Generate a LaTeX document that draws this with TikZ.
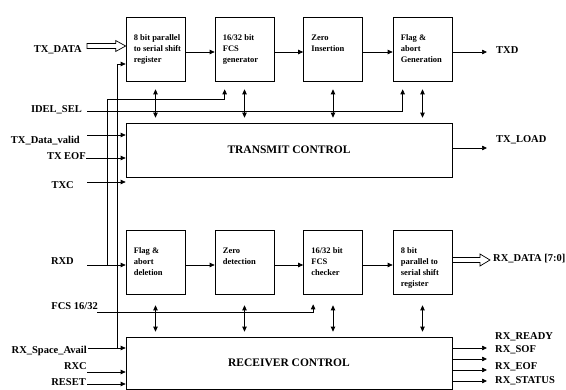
\documentclass[tikz,border=0pt]{standalone}
\usepackage{fontspec}
\setmainfont{Liberation Serif}
\usetikzlibrary{arrows.meta,calc}
\begin{document}
\begin{tikzpicture}[x=1pt,y=-1pt,
  blk/.style={draw, line width=0.7pt, inner sep=0pt, minimum width=59pt, minimum height=64pt},
  ctl/.style={draw, line width=0.7pt, inner sep=0pt, minimum width=326pt, minimum height=54pt, font=\fontsize{11.5}{13}\selectfont\bfseries},
  btxt/.style={anchor=north west, align=left, inner sep=0pt, font=\fontsize{8.5}{11}\selectfont\bfseries},
  lbl/.style={inner sep=0pt, text height=7.5pt, text depth=2pt, font=\fontsize{10.5}{12}\selectfont\bfseries},
  ln/.style={line width=0.7pt},
  arr/.style={line width=0.7pt, -{Triangle[length=5pt,width=4.5pt]}},
  biarr/.style={line width=0.9pt, {Triangle[length=5pt,width=4.5pt]}-{Triangle[length=5pt,width=4.5pt]}}
]
\useasboundingbox (0,0) rectangle (566,390);

% ---- transmit path boxes
\node[blk] (b1) at (155.5,49) {};
\node[blk] (b2) at (244.5,49) {};
\node[blk] (b3) at (333,49) {};
\node[blk] (b4) at (422.5,49) {};
\node[btxt] at ([xshift=8pt,yshift=-18pt]b1.north west) {8 bit parallel\\to serial shift\\register};
\node[btxt] at ([xshift=8pt,yshift=-18pt]b2.north west) {16/32 bit\\FCS\\generator};
\node[btxt] at ([xshift=8pt,yshift=-18pt]b3.north west) {Zero\\Insertion};
\node[btxt] at ([xshift=8pt,yshift=-18pt]b4.north west) {Flag \&\\abort\\Generation};

% ---- receive path boxes
\node[blk] (c1) at (155.5,262) {};
\node[blk] (c2) at (244.5,262) {};
\node[blk] (c3) at (333,262) {};
\node[blk] (c4) at (422.5,262) {};
\node[btxt] at ([xshift=8pt,yshift=-18pt]c1.north west) {Flag \&\\abort\\deletion};
\node[btxt] at ([xshift=8pt,yshift=-18pt]c2.north west) {Zero\\detection};
\node[btxt] at ([xshift=8pt,yshift=-18pt]c3.north west) {16/32 bit\\FCS\\checker};
\node[btxt] at ([xshift=8pt,yshift=-18pt]c4.north west) {8 bit\\parallel to\\serial shift\\register};

% ---- control blocks
\node[ctl] (tc) at (289,150) {TRANSMIT CONTROL};
\node[ctl, minimum height=52pt] (rc) at (289,363) {RECEIVER CONTROL};

% ---- chain arrows
\draw[arr] ([yshift=-3pt]b1.east) -- ([yshift=-3pt]b2.west);
\draw[arr] ([yshift=-3pt]b2.east) -- ([yshift=-3pt]b3.west);
\draw[arr] ([yshift=-3pt]b3.east) -- ([yshift=-3pt]b4.west);
\draw[arr] ([yshift=-3pt]c1.east) -- ([yshift=-3pt]c2.west);
\draw[arr] ([yshift=-3pt]c2.east) -- ([yshift=-3pt]c3.west);
\draw[arr] ([yshift=-3pt]c3.east) -- ([yshift=-3pt]c4.west);

% ---- bidirectional arrows
\foreach \b in {b1,b2,b3,b4}
  \draw[biarr] ($(\b.south)+(0,8)$) -- ($(\b.south |- tc.north)+(0,-5)$);
\foreach \b in {c1,c2,c3,c4}
  \draw[biarr] ($(\b.south)+(0,11)$) -- ($(\b.south |- rc.north)+(0,-5)$);

% ---- left labels
\node[lbl, anchor=east] (ltxdata) at (82,50) {TX\_DATA};
\node[lbl, anchor=east] (lidel) at (82,110) {IDEL\_SEL};
\node[lbl, anchor=east] (ldv) at (80,141) {TX\_Data\_valid};
\node[lbl, anchor=east] (leof) at (86,157) {TX EOF};
\node[lbl, anchor=east] (ltxc) at (74,186) {TXC};
\node[lbl, anchor=east] (lrxd) at (74,262) {RXD};
\node[lbl, anchor=east] (lfcs) at (98,307) {FCS 16/32};
\node[lbl, anchor=east] (lrsa) at (87,351) {RX\_Space\_Avail};
\node[lbl, anchor=east] (lrxc) at (87,367) {RXC};
\node[lbl, anchor=east] (lrst) at (86,383) {RESET};

% ---- free ends on the left
\coordinate (txdS) at (87,46);
\coordinate (idelS) at (87,111);
\coordinate (dvS) at (87,135);
\coordinate (eofS) at (86,158);
\coordinate (txcS) at (87,182);
\coordinate (rxdS) at (87,265);
\coordinate (fcsS) at (97,312);
\coordinate (rsaS) at (88,348);
\coordinate (rxcS) at (87,372);
\coordinate (rstS) at (87,384);
\coordinate (j1) at (107,265);
\coordinate (k1) at (107,99);
\coordinate (j2) at (117,348);

% TX_DATA hollow bus arrow
\coordinate (txdT) at (b1.west |- txdS);
\draw[ln, line join=miter] ($(txdS)+(0,-2.5)$) -- ($(txdT)+(-10,-2.5)$) -- ($(txdT)+(-10,-5.5)$)
  -- (txdT) -- ($(txdT)+(-10,5.5)$) -- ($(txdT)+(-10,2.5)$) -- ($(txdS)+(0,2.5)$) -- cycle;

\draw[arr] (idelS) -| ([xshift=10pt,yshift=-8pt]b4.south west);
\draw[arr] (dvS) -- (dvS -| tc.west);
\draw[arr] (eofS) -- (eofS -| tc.west);
\draw[arr] (txcS) -- (txcS -| tc.west);
\draw[arr] (rxdS) -- ([yshift=-3pt]c1.west);
\draw[ln] (j1) -- (k1);
\draw[arr] (k1) -| ([xshift=10pt,yshift=-8pt]b2.south west);
\draw[arr] (j2) |- ([yshift=-15pt]b1.west);
\draw[arr] (fcsS) -| ([xshift=10pt,yshift=-10pt]c3.south west);
\draw[arr] (rsaS) -- (rsaS -| rc.west);
\draw[arr] (rxcS) -- (rxcS -| rc.west);
\draw[arr] (rstS) -- (rstS -| rc.west);

% ---- right side
\coordinate (txdE) at (487,52);
\coordinate (tlE) at (487,148);
\coordinate (rxdE) at (490,260);
\coordinate (o1) at (487,348);
\coordinate (o2) at (487,359);
\coordinate (o3) at (487,370);
\coordinate (o4) at (487,381);

\draw[arr] ([yshift=-3pt]b4.east) -- (txdE);
\draw[arr] (tlE -| tc.east) -- (tlE);
\coordinate (rxdB) at (c4.east |- rxdE);
\draw[ln, line join=miter] ($(rxdB)+(0,-2.5)$) -- ($(rxdE)+(-10,-2.5)$) -- ($(rxdE)+(-10,-6)$)
  -- (rxdE) -- ($(rxdE)+(-10,6)$) -- ($(rxdE)+(-10,2.5)$) -- ($(rxdB)+(0,2.5)$);
\foreach \o in {o1,o2,o3,o4}
  \draw[arr] (\o -| rc.east) -- (\o);

\node[lbl, anchor=west] (rtxd) at (496,51) {TXD};
\node[lbl, anchor=west] (rtl) at (496,140) {TX\_LOAD};
\node[lbl, anchor=west] (rrxd) at (493,259) {RX\_DATA [7:0]};
\node[lbl, anchor=west] (rrdy) at (495,337) {RX\_READY};
\node[lbl, anchor=west] (rsof) at (495,350) {RX\_SOF};
\node[lbl, anchor=west] (reof) at (495,367) {RX\_EOF};
\node[lbl, anchor=west] (rsts) at (495,381) {RX\_STATUS};
\end{tikzpicture}
\end{document}
